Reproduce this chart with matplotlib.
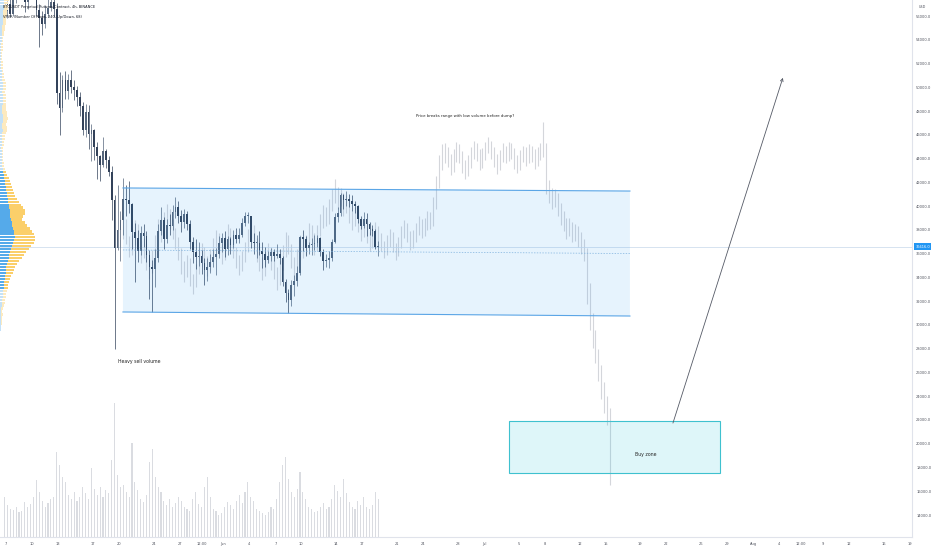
import matplotlib
matplotlib.use("Agg")
import matplotlib.pyplot as plt
from matplotlib.patches import Polygon, Rectangle
import numpy as np

# ---------------- data (prices in thousands USD, 8h candles from May 6 16:00) ----------------
first_open = 56.0
closes = [56.4,
          57.0, 56.2, 57.4,  58.3, 58.7, 58.9,  57.2, 57.9, 58.2,  58.9, 56.5, 55.8,  55.3, 56.2, 56.7,
          57.2, 56.6, 49.5,  48.3, 50.6, 49.7,  50.6, 50.0, 49.8,  49.2, 48.4, 46.4,  47.9, 46.1, 46.4,
          45.0, 44.2, 43.5,  44.6, 43.9, 42.9,  40.5, 36.5, 38.0,  38.8, 40.6, 40.5,  40.2, 37.8, 37.3,
          36.2, 37.7, 37.5,  35.9, 34.9, 34.7,  35.6, 37.9, 38.8,  37.2, 38.4, 38.3,  39.5, 39.9, 39.2,
          38.7, 39.3, 38.5,  37.0, 36.1, 35.7,  35.8, 35.2, 34.6,  34.9, 35.3, 35.7,  36.0, 36.9, 37.3,
          36.4, 37.2, 36.7,  37.6, 37.2, 37.6,  38.6, 39.2, 39.2,  37.0, 36.9, 36.9,  36.2, 36.0, 35.5,
          35.8, 36.1, 35.8,  36.0, 35.6, 33.6,  32.7, 32.1, 33.4,  33.7, 34.4, 37.4,  37.2, 36.5, 36.7,
          36.8, 36.9, 37.3,  36.1, 35.4, 35.5,  35.6, 37.0, 39.1,  39.4, 40.9, 40.5,  40.6, 40.4, 40.2,
          40.0, 38.9, 38.3,  38.9, 38.5, 38.1,  37.9, 36.6, 36.6]
highs = [57.0,
         57.3, 57.8, 58.6,  58.8, 59.3, 59.4,  59.2, 58.3, 59.0,  59.6, 59.2, 57.0,  56.4, 56.9, 57.6,
         58.0, 57.8, 57.1,  51.3, 51.0, 51.4,  51.1, 51.5, 50.6,  50.1, 49.6, 48.8,  48.6, 48.5, 46.9,
         46.5, 45.4, 44.3,  45.8, 44.8, 44.2,  43.4, 40.9, 41.8,  39.6, 42.4, 41.8,  42.1, 40.3, 38.6,
         38.0, 38.3, 38.5,  37.9, 36.3, 35.5,  36.4, 38.5, 39.9,  39.1, 38.9, 39.3,  40.1, 40.8, 40.4,
         39.7, 39.8, 39.6,  38.8, 37.4, 37.2,  37.0, 36.3, 35.6,  35.6, 36.0, 36.4,  36.5, 37.5, 37.7,
         37.9, 37.5, 37.4,  38.0, 38.2, 38.2,  39.0, 39.5, 39.5,  39.2, 37.7, 37.6,  37.9, 37.0, 36.6,
         36.2, 36.5, 36.4,  36.8, 36.4, 35.8,  33.9, 33.0, 33.8,  34.2, 35.0, 37.5,  38.0, 37.5, 37.0,
         37.3, 37.6, 37.6,  37.4, 36.4, 36.0,  36.2, 37.2, 39.4,  39.9, 41.1, 41.0,  41.3, 41.0, 40.9,
         40.4, 40.1, 39.2,  39.5, 39.4, 38.7,  38.4, 38.1, 37.1]
lows = [55.3,
        55.8, 55.9, 56.0,  57.1, 58.0, 58.2,  56.3, 56.6, 57.5,  57.8, 56.0, 53.4,  54.4, 55.0, 55.9,
        56.4, 55.9, 48.6,  46.0, 47.9, 49.0,  49.0, 49.5, 48.9,  48.4, 47.6, 46.0,  45.8, 44.8, 43.8,
        43.9, 42.3, 42.1,  43.3, 43.2, 42.5,  38.8, 28.0, 36.3,  35.4, 37.6, 39.2,  39.4, 36.4, 33.6,
        35.3, 35.9, 36.6,  35.3, 32.2, 31.1,  33.2, 35.3, 37.6,  36.4, 36.9, 37.6,  38.0, 39.0, 38.6,
        37.8, 38.2, 38.0,  36.4, 35.2, 34.7,  35.0, 34.3, 33.4,  33.7, 34.4, 34.9,  34.2, 35.6, 36.1,
        35.7, 35.9, 36.0,  36.5, 36.9, 36.9,  37.4, 38.3, 38.6,  36.5, 36.0, 35.6,  35.9, 34.8, 34.9,
        35.2, 35.4, 35.4,  35.6, 35.1, 33.3,  31.9, 31.0, 31.6,  32.4, 33.3, 34.2,  36.2, 35.8, 36.0,
        35.9, 36.3, 36.6,  35.8, 34.6, 34.9,  34.8, 35.4, 36.9,  38.7, 39.2, 39.8,  40.0, 39.9, 39.6,
        39.4, 38.6, 38.1,  38.2, 37.5, 37.6,  37.5, 36.4, 35.8]
volumes = [40, 32, 28, 27, 30, 25, 26, 35, 30, 33,
           40, 57, 45, 36, 30, 34, 38, 40, 85, 72,
           60, 55, 42, 38, 45, 36, 40, 50, 44, 38,
           69, 48, 42, 50, 40, 47, 44, 77, 134, 62,
           50, 52, 45, 40, 94, 55, 47, 38, 35, 42,
           75, 88, 60, 50, 45, 36, 32, 38, 30, 34,
           40, 36, 30, 28, 26, 38, 45, 33, 30, 50,
           60, 40, 28, 26, 22, 24, 30, 35, 32, 28,
           36, 42, 34, 45, 55, 40, 36, 28, 26, 24,
           22, 25, 30, 28, 38, 55, 72, 80, 58, 45,
           40, 48, 65, 45, 38, 30, 28, 25, 26, 30,
           34, 28, 30, 38, 52, 46, 40, 58, 44, 35,
           30, 28, 36, 32, 40, 30, 28, 32, 45, 38]

# projected "ghost" bars (8h, from May 20 00:00)
ghost_low = [36.6, 37.2, 36.8, 35.7, 35.9, 36.7, 36.3, 35.2, 35.6, 34.6, 33.9,
             34.4, 35.5, 36.7, 37.0, 37.3, 38.5, 38.1, 37.2, 36.4, 35.5, 34.3, 33.6, 34.0, 33.3,
             32.6, 33.2, 34.3, 35.4, 34.9, 34.1, 34.5, 35.6,
             36.3, 36.0, 35.1, 35.5, 36.6, 36.7, 35.6, 34.8, 34.2, 34.5, 35.3,
             36.1, 37.2, 36.5, 35.3, 34.5, 33.8, 34.1, 35.2, 34.6, 33.9,
             32.9, 33.4, 34.6, 35.7, 36.0, 34.8, 33.8, 34.3, 35.5,
             35.6, 35.9, 36.7, 36.8, 35.9, 36.2, 37.5, 38.2, 38.3, 38.5, 39.6, 40.3, 39.8,
             40.0, 39.2, 39.4, 38.6, 38.0, 38.3, 37.8, 37.1, 37.4, 36.9, 36.2, 36.5, 37.2, 36.6,
             36.2, 35.6, 35.9, 36.6, 36.1, 35.5, 35.8, 36.5, 37.3, 37.0, 36.3, 36.5, 37.0, 37.6,
             37.3, 37.5, 38.0, 38.1,
             38.3, 39.8, 41.5, 43.0,
             43.6, 43.3, 42.6, 42.9, 43.7, 43.6, 42.8, 42.3, 42.5, 43.2, 44.0, 43.8, 43.0, 43.2,
             43.9, 44.5, 44.0, 43.3, 42.7, 43.0, 43.7, 43.6, 43.8, 44.0, 43.1, 42.8, 43.0, 43.7,
             43.4, 43.6, 43.7, 43.1, 43.4, 43.9, 44.1,
             41.0, 40.3, 39.8, 39.9, 39.2, 38.4, 37.9, 37.2, 37.5, 37.0, 37.1, 36.6,
             36.0, 35.4, 31.8, 29.6, 28.1, 26.8, 25.3, 23.8, 22.6, 21.6, 16.5]
ghost_high = [38.1, 39.2, 38.9, 37.5, 37.6, 38.8, 38.5, 37.1, 37.3, 36.9, 35.6,
              36.3, 37.6, 38.9, 38.7, 39.5, 40.2, 39.8, 38.9, 38.2, 37.4, 36.5, 35.4, 35.9, 35.6,
              34.3, 35.1, 36.4, 36.9, 36.6, 35.8, 36.4, 37.3,
              38.0, 37.7, 36.9, 37.4, 38.5, 38.2, 37.5, 36.6, 35.9, 36.2, 37.0,
              38.1, 38.8, 38.4, 37.3, 36.4, 35.7, 36.2, 36.9, 36.6, 35.5,
              34.9, 35.5, 36.7, 37.8, 37.6, 36.8, 35.7, 36.4, 37.6,
              37.4, 37.6, 38.6, 38.4, 37.7, 38.4, 39.3, 40.1, 39.9, 40.6, 41.4, 42.3, 41.6,
              41.5, 41.1, 40.9, 40.5, 39.6, 39.9, 39.6, 38.8, 38.9, 38.6, 37.8, 38.2, 38.7, 38.3,
              37.7, 37.1, 37.6, 38.1, 37.8, 36.9, 37.4, 38.3, 38.8, 38.6, 37.9, 38.0, 38.6, 39.2,
              38.9, 39.0, 39.6, 39.5,
              40.8, 42.5, 44.3, 45.2,
              45.3, 45.0, 44.4, 44.8, 45.4, 45.2, 44.6, 43.9, 44.3, 45.0, 45.5, 45.3, 44.8, 44.9,
              45.4, 45.8, 45.5, 45.0, 44.4, 44.7, 45.3, 45.1, 45.4, 45.3, 44.9, 44.3, 44.7, 45.1,
              45.0, 45.2, 45.1, 44.8, 45.0, 45.3, 47.1,
              45.3, 42.2, 41.5, 41.4, 41.1, 40.3, 39.6, 39.0, 39.0, 38.7, 38.5, 38.3,
              37.8, 37.2, 36.5, 33.5, 31.0, 29.6, 28.0, 26.6, 25.2, 24.0, 23.0]

# volume profile (rows of 250 USD from 29,500 to 57,500), up / down volume
vp_up = [0.5, 0.5, 0.8, 0.8,  1.0, 1.2, 1.0, 1.4,  1.8, 2.0, 2.4, 2.6,  2.8, 3.2, 3.6, 3.9,
         4.2, 4.6, 5.0, 5.5,  6.0, 6.4, 7.0, 7.6,  8.5, 9.3, 10.2, 11.0,  12.0, 13.2, 14.0, 14.5,
         14.0, 13.5, 13.0, 12.4,  11.5, 10.5, 10.0, 10.4,  9.8, 9.0, 8.5, 8.0,  7.6, 7.0, 6.5, 6.0,
         5.5, 5.0, 4.6, 4.0,  3.6, 3.2, 2.8, 2.4,  2.0, 1.8, 1.6, 1.5,  1.5, 1.4, 1.6, 1.8,
         2.0, 2.2, 2.4, 2.6,  2.4, 2.2, 2.6, 2.8,  2.6, 2.4, 2.2, 2.4,  2.6, 2.8, 3.0, 2.7,
         2.4, 2.6, 2.8, 2.5,  2.2, 2.0, 1.8, 1.6,  1.4, 1.2, 1.2, 1.1,  1.0, 1.1, 1.2, 1.3,
         1.4, 1.5, 1.6, 1.8,  2.0, 2.2, 2.4, 2.6,  2.8, 3.0, 3.2, 3.4,  3.6, 3.8, 4.0, 4.2]
vp_down = [0.6, 0.8, 0.8, 1.0,  1.2, 1.5, 1.3, 1.6,  2.0, 2.5, 2.8, 3.0,  3.2, 3.6, 4.1, 4.5,
           4.8, 5.4, 6.3, 7.0,  7.8, 8.6, 10.0, 11.5,  13.0, 14.5, 16.0, 18.0,  19.0, 20.5, 21.0, 20.0,
           19.5, 18.0, 17.0, 15.0,  13.5, 11.5, 12.5, 14.5,  15.0, 14.0, 12.5, 10.5,  9.0, 8.0, 7.5, 7.0,
           6.5, 6.0, 5.0, 4.5,  3.5, 3.0, 2.5, 2.0,  1.8, 1.6, 1.5, 1.4,  1.5, 1.8, 2.0, 2.4,
           2.8, 3.2, 3.8, 4.2,  4.4, 4.0, 4.6, 5.0,  4.6, 4.2, 3.8, 4.0,  3.6, 3.2, 3.4, 3.0,
           2.8, 3.2, 3.4, 3.0,  2.6, 2.2, 2.0, 1.8,  1.6, 1.4, 1.3, 1.2,  1.0, 1.1, 1.3, 1.4,
           1.5, 1.6, 1.8, 2.0,  2.2, 2.4, 2.8, 3.0,  3.2, 3.4, 3.6, 3.8,  4.0, 4.2, 4.4, 4.6]

price_ticks = list(range(14, 57, 2))
date_ticks = [0, 3, 6, 10, 13, 17, 20, 22.5, 25, 28, 31, 34, 38, 41, 45, 48, 52, 55, 59, 62,
              66, 69, 73, 76, 80, 83, 86, 89, 91.5, 94, 97, 101, 104]
date_labels = ["7", "10", "13", "17", "20", "24", "27", "12:00", "Jun", "4", "7", "10", "14", "17",
               "21", "24", "28", "Jul", "5", "8", "12", "15", "19", "22", "26", "29", "Aug", "4",
               "12:00", "9", "12", "16", "19"]
last_price = closes[-1]

# ---------------- figure ----------------
fig = plt.figure(figsize=(9.32, 5.5), dpi=100)
fig.patch.set_facecolor("white")
ax = fig.add_axes([0, 13 / 550, 912 / 932, 537 / 550])
ax.set_xlim(-0.69, 104.26)
ax.set_ylim(12.15, 57.35)

# ghost projection
n_g = min(len(ghost_low), len(ghost_high))
xg = 13 + np.arange(n_g) / 3 + 1 / 6
ax.vlines(xg, ghost_low[:n_g], ghost_high[:n_g], color="#d4d6db", lw=0.8, zorder=1)

# candles
n = len(closes)
xc = -1 / 3 + np.arange(n) / 3 + 1 / 6
opens = [first_open] + closes[:-1]
up = np.array(closes) >= np.array(opens)
cols = np.where(up, "#55657b", "#33425a")
ax.vlines(xc, lows, highs, colors=cols, lw=0.5, zorder=2)
body = np.array(closes) - np.array(opens)
body = np.where(np.abs(body) < 0.08, 0.08, body)
ax.bar(xc, body, bottom=opens, width=0.2, color=cols, linewidth=0, zorder=2)

# range channel
chan_x0, chan_x1 = 13.46, 71.8
top_l, top_r, bot_l, bot_r = 41.53, 41.27, 31.09, 30.75
ax.add_patch(Polygon([(chan_x0, top_l), (chan_x1, top_r), (chan_x1, bot_r), (chan_x0, bot_l)],
                     closed=True, facecolor="#2196f3", alpha=0.11, edgecolor="none", zorder=3))
ax.plot([chan_x0, chan_x1], [top_l, top_r], color="#5aa5e6", lw=0.8, zorder=4)
ax.plot([chan_x0, chan_x1], [bot_l, bot_r], color="#5aa5e6", lw=0.8, zorder=4)
ax.plot([chan_x0, chan_x1], [(top_l + bot_l) / 2, (top_r + bot_r) / 2], color="#7fb2de",
        lw=0.5, ls=(0, (2, 2)), zorder=4)

# current price line
ax.axhline(last_price, color="#c6d8ea", lw=0.5, zorder=1.5)

# buy zone
ax.add_patch(Rectangle((57.9, 17.54), 82.2 - 57.9, 21.91 - 17.54, facecolor="#00bcd4", alpha=0.13,
                       edgecolor="none", zorder=3))
ax.add_patch(Rectangle((57.9, 17.54), 82.2 - 57.9, 21.91 - 17.54, facecolor="none",
                       edgecolor="#3fc1cf", lw=0.8, zorder=4))
ax.text(73.6, 19.13, "Buy zone", fontsize=3.3, color="#222", ha="center", va="center", zorder=5)

# arrow
ax.annotate("", xy=(89.4, 50.8), xytext=(76.75, 21.74),
            arrowprops=dict(arrowstyle="->", color="#555a66", lw=0.6, mutation_scale=5,
                            shrinkA=0, shrinkB=0), zorder=5)

ax.text(52.85, 47.6, "Price breaks range with low volume before dump?", fontsize=2.8,
        color="#222", ha="center", va="center", zorder=5)
ax.text(12.9, 26.88, "Heavy sell volume", fontsize=3.3, color="#222", ha="left", va="center",
        zorder=5)

# volume
ax_v = ax.twinx()
ax_v.set_ylim(0, max(volumes) * 537 / 134)
ax_v.bar(xc[:len(volumes)], volumes, width=0.13, color="#dadce1", linewidth=0, zorder=1)
ax_v.set_yticks([])
for s in ax_v.spines.values():
    s.set_visible(False)

# volume profile
ax_p = ax.twiny()
rows = 29.625 + 0.25 * np.arange(len(vp_up))
tot_max = max(u + d for u, d in zip(vp_up, vp_down))
ax_p.set_xlim(0, tot_max * 912 / 35)
in_va = (rows >= 33.0) & (rows <= 43.0)
c_up = np.where(in_va, "#55aaea", "#c4e1f7")
c_dn = np.where(in_va, "#fbcf6a", "#fdeabf")
ax_p.barh(rows, vp_up, height=0.19, color=c_up, linewidth=0)
ax_p.barh(rows, vp_down, left=vp_up, height=0.19, color=c_dn, linewidth=0)
ax_p.set_xticks([])
for s in ax_p.spines.values():
    s.set_visible(False)

# axes styling
ax.yaxis.tick_right()
ax.set_yticks(price_ticks)
ax.set_yticklabels([f"{p * 1000:.1f}" for p in price_ticks])
ax.set_xticks(date_ticks)
ax.set_xticklabels(date_labels)
ax.tick_params(axis="y", length=0, pad=3, labelsize=2.6, labelcolor="#50535e")
ax.tick_params(axis="x", length=0, pad=3.5, labelsize=2.6, labelcolor="#50535e")
for k in ["top", "left"]:
    ax.spines[k].set_visible(False)
for k in ["right", "bottom"]:
    ax.spines[k].set_color("#e0e3eb")
    ax.spines[k].set_linewidth(0.8)

# last price label
ax.annotate(f"{last_price * 1000 + 16:.1f}", xy=(1.0, last_price),
            xycoords=("axes fraction", "data"), xytext=(2.5, 0), textcoords="offset points",
            fontsize=2.6, color="white", va="center", ha="left", zorder=10,
            bbox=dict(boxstyle="square,pad=0.3", fc="#2196f3", ec="none"),
            annotation_clip=False)

fig.text(922 / 932, 1 - 7 / 550, "USD", fontsize=2.4, color="#50535e", ha="center", va="center")
fig.text(3 / 932, 1 - 7 / 550, "BTCUSDT Perpetual Futures Contract, 4h, BINANCE", fontsize=2.6,
         color="#131722", ha="left", va="center")
fig.text(3 / 932, 1 - 17 / 550, "VPVR (Number Of Rows, 240, Up/Down, 68)", fontsize=2.6,
         color="#131722", ha="left", va="center")

fig.savefig("out.png", dpi=100, facecolor="white")
